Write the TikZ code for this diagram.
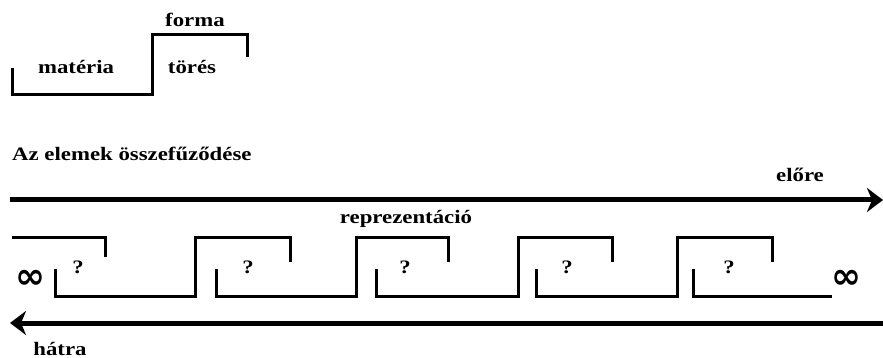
\documentclass[tikz,border=0pt]{standalone}
\usepackage{fontspec}
\setmainfont{Liberation Serif}[FakeStretch=1.2]
\newfontfamily\inffont{DejaVu Sans}
\usetikzlibrary{arrows.meta}

\begin{document}
\begin{tikzpicture}[
            x=1pt, y=-1pt,
            word/.style={
                font=\fontsize{19}{19}\selectfont\bfseries,
                inner sep=0pt,
                anchor=base
            },
            inf/.style={
                font=\inffont\fontsize{36}{36}\selectfont\bfseries,
                inner sep=0pt
            },
            link/.style={
                line width=3pt
            },
            flow/.style={
                line width=5pt,
                -{Stealth[length=16pt, width=24pt, inset=5pt]}
            }
        ]
            \useasboundingbox (0,0) rectangle (883,358);

            % matter and form
            \draw[link] (12,68) |- (152,95) |- (247,35) -- (247,57);
            \node[word] (forma) at (195,27) {forma};
            \node[word] (materia) at (76,74) {matéria};
            \node[word] (tores) at (192,74) {törés};

            \node[word, anchor=base west] (title) at (12,161) {Az elemek összefűződése};

            % forward
            \coordinate (fwdstart) at (10,200);
            \coordinate (fwdend) at (883,200);
            \draw[flow] (fwdstart) -- (fwdend);
            \node[word] (elore) at (800,182) {előre};
            \node[word] (repr) at (406,223) {reprezentáció};

            % chain of elements
            \draw[link] (12,237) -| (105,257);
            \foreach \a/\b/\c in {55/195/290, 216/356/448, 376/518/612, 536/677/772}
                \draw[link] (\a,269) |- (\b,296) |- (\c,237.5) -- (\c,262);
            \draw[link] (693,269) |- (832,296);
            \foreach \x [count=\i] in {78,248,405,567,729}
                \node[word] (q\i) at (\x,273) {?};
            \node[inf] (infleft) at (30,279) {∞};
            \node[inf] (infright) at (846,279) {∞};

            % backward
            \coordinate (backstart) at (883,323);
            \coordinate (backend) at (10,323);
            \draw[flow] (backstart) -- (backend);
            \node[word] (hatra) at (60,355) {hátra};
        \end{tikzpicture}
\end{document}
